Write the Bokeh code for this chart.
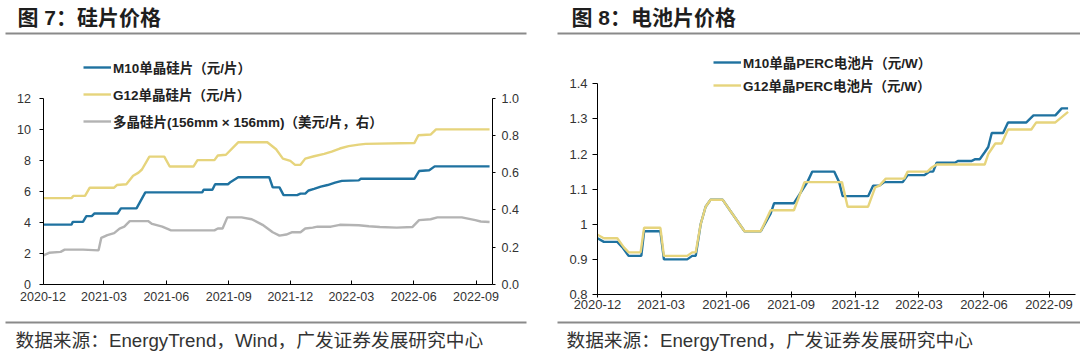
import pandas as pd
from bokeh.plotting import figure
from bokeh.layouts import row
from bokeh.models import (Range1d, LinearAxis, FixedTicker, CustomJSTickFormatter,
                          Legend, LegendItem, Label, BoxAnnotation)
from bokeh.embed import file_html
from bokeh.resources import INLINE

# ---------------- data: wafer prices (Fig. 7) ----------------
m10_wafer_dates = ["2020-12-01", "2021-01-12", "2021-01-14", "2021-01-29", "2021-02-03", "2021-02-11",
                   "2021-02-15", "2021-03-21", "2021-03-26", "2021-04-18", "2021-05-01", "2021-07-24",
                   "2021-07-26", "2021-08-08", "2021-08-12", "2021-08-31", "2021-09-04", "2021-09-15",
                   "2021-10-31", "2021-11-05", "2021-11-15", "2021-11-21", "2021-12-11", "2021-12-16",
                   "2021-12-23", "2021-12-28", "2022-01-05", "2022-01-15", "2022-01-25", "2022-02-05",
                   "2022-02-15", "2022-03-12", "2022-03-15", "2022-06-02", "2022-06-09", "2022-06-24",
                   "2022-07-02", "2022-09-21"]
m10_wafer_values = [3.85, 3.85, 4.03, 4.03, 4.40, 4.40,
                    4.57, 4.57, 4.90, 4.90, 5.93, 5.93,
                    6.10, 6.10, 6.45, 6.45, 6.60, 6.90,
                    6.90, 6.25, 6.25, 5.75, 5.75, 5.85,
                    5.85, 6.05, 6.15, 6.30, 6.40, 6.55,
                    6.67, 6.70, 6.80, 6.80, 7.30, 7.35,
                    7.60, 7.60]

g12_wafer_dates = ["2020-12-01", "2021-01-12", "2021-01-15", "2021-02-01", "2021-02-08", "2021-03-16",
                   "2021-03-20", "2021-04-03", "2021-04-13", "2021-04-21", "2021-04-26", "2021-05-07",
                   "2021-05-29", "2021-06-06", "2021-07-11", "2021-07-17", "2021-08-11", "2021-08-16",
                   "2021-08-28", "2021-09-15", "2021-10-28", "2021-11-10", "2021-11-20", "2021-12-01",
                   "2021-12-08", "2021-12-16", "2021-12-23", "2022-01-05", "2022-01-20", "2022-01-31",
                   "2022-02-12", "2022-02-25", "2022-03-12", "2022-03-22", "2022-06-02", "2022-06-08",
                   "2022-06-26", "2022-07-04", "2022-09-21"]
g12_wafer_values = [5.56, 5.56, 5.70, 5.70, 6.23, 6.23,
                    6.40, 6.45, 7.00, 7.20, 7.40, 8.23,
                    8.23, 7.59, 7.59, 8.00, 8.00, 8.30,
                    8.35, 9.15, 9.15, 8.70, 8.10, 7.95,
                    7.70, 7.70, 8.10, 8.25, 8.40, 8.55,
                    8.75, 8.90, 9.00, 9.05, 9.10, 9.60,
                    9.65, 9.98, 9.98]

poly_wafer_dates = ["2020-12-01", "2020-12-10", "2020-12-27", "2021-01-02", "2021-01-29", "2021-02-21",
                    "2021-02-25", "2021-03-06", "2021-03-16", "2021-03-24", "2021-03-31", "2021-04-08",
                    "2021-05-05", "2021-05-11", "2021-05-26", "2021-06-08", "2021-08-11", "2021-08-16",
                    "2021-08-23", "2021-08-30", "2021-09-20", "2021-10-05", "2021-10-21", "2021-11-05",
                    "2021-11-15", "2021-11-25", "2021-12-03", "2021-12-16", "2021-12-23", "2022-01-03",
                    "2022-01-10", "2022-01-30", "2022-02-12", "2022-03-12", "2022-03-27", "2022-04-12",
                    "2022-05-07", "2022-05-30", "2022-06-09", "2022-06-26", "2022-07-06", "2022-08-11",
                    "2022-08-31", "2022-09-08", "2022-09-21"]
poly_wafer_values = [0.155, 0.170, 0.175, 0.187, 0.187, 0.183,
                     0.250, 0.265, 0.275, 0.300, 0.310, 0.340,
                     0.340, 0.325, 0.310, 0.290, 0.290, 0.300,
                     0.300, 0.360, 0.360, 0.350, 0.320, 0.280,
                     0.262, 0.268, 0.280, 0.280, 0.300, 0.305,
                     0.310, 0.310, 0.320, 0.318, 0.312, 0.308,
                     0.305, 0.308, 0.345, 0.350, 0.360, 0.360,
                     0.345, 0.338, 0.335]

# ---------------- data: cell prices (Fig. 8) ----------------
m10_cell_dates = ["2020-12-01", "2020-12-10", "2020-12-29", "2021-01-05", "2021-01-14", "2021-02-01",
                  "2021-02-05", "2021-02-28", "2021-03-05", "2021-04-07", "2021-04-14", "2021-04-19",
                  "2021-04-26", "2021-05-03", "2021-05-10", "2021-05-27", "2021-06-27", "2021-07-20",
                  "2021-08-03", "2021-08-08", "2021-09-05", "2021-09-24", "2021-10-01", "2021-11-01",
                  "2021-11-08", "2021-11-13", "2021-12-19", "2021-12-26", "2022-01-04", "2022-01-11",
                  "2022-02-06", "2022-02-13", "2022-03-09", "2022-03-16", "2022-03-21", "2022-03-26",
                  "2022-04-21", "2022-04-25", "2022-05-14", "2022-05-19", "2022-05-26", "2022-06-02",
                  "2022-06-07", "2022-06-12", "2022-06-28", "2022-07-05", "2022-07-31", "2022-08-10",
                  "2022-09-10", "2022-09-19", "2022-09-28"]
m10_cell_values = [0.96, 0.95, 0.95, 0.935, 0.91, 0.91,
                   0.98, 0.98, 0.90, 0.90, 0.91, 0.91,
                   1.00, 1.05, 1.07, 1.07, 0.98, 0.98,
                   1.03, 1.06, 1.06, 1.12, 1.15, 1.15,
                   1.12, 1.08, 1.08, 1.11, 1.11, 1.12,
                   1.12, 1.14, 1.14, 1.15, 1.15, 1.175,
                   1.175, 1.18, 1.18, 1.185, 1.185, 1.205,
                   1.22, 1.26, 1.26, 1.29, 1.29, 1.31,
                   1.31, 1.33, 1.33]

g12_cell_dates = ["2020-12-01", "2020-12-10", "2020-12-29", "2021-01-07", "2021-01-14", "2021-01-31",
                  "2021-02-05", "2021-02-28", "2021-03-05", "2021-04-07", "2021-04-14", "2021-04-19",
                  "2021-04-26", "2021-05-03", "2021-05-10", "2021-05-27", "2021-06-27", "2021-07-20",
                  "2021-08-03", "2021-09-05", "2021-09-20", "2021-11-12", "2021-11-20", "2021-12-19",
                  "2021-12-29", "2022-01-04", "2022-01-13", "2022-02-08", "2022-02-13", "2022-03-13",
                  "2022-03-18", "2022-03-26", "2022-06-02", "2022-06-07", "2022-06-17", "2022-06-26",
                  "2022-07-05", "2022-08-07", "2022-08-14", "2022-09-10", "2022-09-28"]
g12_cell_values = [0.97, 0.96, 0.96, 0.935, 0.92, 0.92,
                   0.99, 0.99, 0.91, 0.91, 0.92, 0.92,
                   1.00, 1.05, 1.07, 1.07, 0.98, 0.98,
                   1.04, 1.04, 1.12, 1.12, 1.05, 1.05,
                   1.105, 1.11, 1.13, 1.13, 1.15, 1.15,
                   1.16, 1.17, 1.17, 1.20, 1.23, 1.23,
                   1.27, 1.27, 1.29, 1.29, 1.32]

month_ticks = ["2020-12-01", "2021-03-01", "2021-06-01", "2021-09-01",
               "2021-12-01", "2022-03-01", "2022-06-01", "2022-09-01"]
wafer_left_ticks = [0, 2, 4, 6, 8, 10, 12]
wafer_right_ticks = [0.0, 0.2, 0.4, 0.6, 0.8, 1.0]
cell_ticks = [0.8, 0.9, 1.0, 1.1, 1.2, 1.3, 1.4]

titles = ["图 7：硅片价格", "图 8：电池片价格"]
sources = ["数据来源：EnergyTrend，Wind，广发证券发展研究中心",
           "数据来源：EnergyTrend，广发证券发展研究中心"]
wafer_labels = ["M10单晶硅片（元/片）", "G12单晶硅片（元/片）",
                "多晶硅片(156mm × 156mm)（美元/片，右）"]
cell_labels = ["M10单晶PERC电池片（元/W）", "G12单晶PERC电池片（元/W）"]

# ---------------- styles ----------------
BLUE = "#1f72a0"
YELLOW = "#e6d47c"
GRAY = "#b3b3b3"
RULE = "#8a8a8a"
TXT = "#333333"
LAT = "Liberation Sans"
MIX = "Liberation Sans, Noto Sans CJK SC"
W, H = 540, 360
BASE = pd.Timestamp("2020-12-01")


def ms(d):
    return pd.Timestamp(d).value / 1e6


month_fmt = CustomJSTickFormatter(code="""
    const d = new Date(tick);
    const m = d.getUTCMonth() + 1;
    return d.getUTCFullYear() + "-" + (m < 10 ? "0" + m : "" + m);
""")


def style_axis(ax, out, inn, standoff, size):
    ax.axis_line_color = "#000000"
    ax.axis_line_width = 1
    ax.major_tick_line_color = "#000000"
    ax.major_tick_out = out
    ax.major_tick_in = inn
    ax.minor_tick_line_color = None
    ax.major_label_text_font = LAT
    ax.major_label_text_font_size = size
    ax.major_label_text_color = TXT
    ax.major_label_standoff = standoff


def x_range_for(px_start, px_sep):
    # px_start: pixel of 2020-12-01, px_sep: pixel of 2022-09-01
    ppd = (px_sep - px_start) / 639.0
    start = BASE - pd.Timedelta(days=px_start / ppd)
    end = start + pd.Timedelta(days=W / ppd)
    return Range1d(start, end), ppd


def base_fig(xr, yr):
    p = figure(width=W, height=H, output_backend="svg", toolbar_location=None,
               x_axis_type="datetime", x_range=xr, y_range=yr, min_border=0)
    p.grid.visible = False
    p.outline_line_color = None
    return p


def decorate(p, title, title_x, source, source_x, rule_x0, rule_x1):
    p.add_layout(Label(x=title_x, y=H - 17, x_units="screen", y_units="screen", text=title,
                       text_font=MIX, text_font_size="21px", text_font_style="bold",
                       text_baseline="middle", text_color="#1e1e1e"))
    p.add_layout(BoxAnnotation(left=rule_x0, right=rule_x1, bottom=H - 34, top=H - 32,
                               left_units="screen", right_units="screen",
                               bottom_units="screen", top_units="screen",
                               fill_color=RULE, fill_alpha=1, line_color=None))
    p.add_layout(BoxAnnotation(left=rule_x0, right=rule_x1, bottom=H - 323, top=H - 321,
                               left_units="screen", right_units="screen",
                               bottom_units="screen", top_units="screen",
                               fill_color=RULE, fill_alpha=1, line_color=None))
    p.add_layout(Label(x=source_x, y=H - 340, x_units="screen", y_units="screen", text=source,
                       text_font=MIX, text_font_size="18.7px", text_baseline="middle",
                       text_color=TXT))


# ---------------- chart 1: wafers ----------------
xr1, ppd1 = x_range_for(42.5, 475.5)
ppu1 = (284 - 97.5) / 12.0
yr1 = Range1d(-(H - 284) / ppu1, 284 / ppu1)
p1 = base_fig(xr1, yr1)
p1.extra_y_ranges = {"right": Range1d(-(H - 284) / (ppu1 * 12), 284 / (ppu1 * 12))}
end1 = BASE + pd.Timedelta(days=(492 - 42.5) / ppd1)

xa1 = p1.xaxis[0]
xa1.ticker = FixedTicker(ticks=[ms(t) for t in month_ticks])
xa1.formatter = month_fmt
xa1.fixed_location = 0
xa1.bounds = (ms(BASE), ms(end1))
style_axis(xa1, 0, 4, 7, "12.5px")

ya1 = p1.yaxis[0]
ya1.ticker = FixedTicker(ticks=wafer_left_ticks)
ya1.fixed_location = ms(BASE)
ya1.bounds = (0, 12)
style_axis(ya1, 4, 0, 8, "12.5px")

ax_r = LinearAxis(y_range_name="right", ticker=FixedTicker(ticks=wafer_right_ticks),
                  formatter=CustomJSTickFormatter(code="return tick.toFixed(1);"),
                  bounds=(0, 1), fixed_location=ms(end1))
style_axis(ax_r, 3, 0, 6, "12.5px")
p1.add_layout(ax_r, "right")

r_poly = p1.line(pd.to_datetime(poly_wafer_dates), poly_wafer_values, line_color=GRAY,
                 line_width=2.4, y_range_name="right")
r_g12 = p1.line(pd.to_datetime(g12_wafer_dates), g12_wafer_values, line_color=YELLOW, line_width=2.4)
r_m10 = p1.line(pd.to_datetime(m10_wafer_dates), m10_wafer_values, line_color=BLUE, line_width=2.4)

leg1 = Legend(items=[LegendItem(label=wafer_labels[0], renderers=[r_m10]),
                     LegendItem(label=wafer_labels[1], renderers=[r_g12]),
                     LegendItem(label=wafer_labels[2], renderers=[r_poly])],
              location=(83, H - 131), orientation="vertical", glyph_width=28, glyph_height=20,
              label_height=20, spacing=7, padding=0, margin=0, label_standoff=2,
              border_line_color=None, background_fill_alpha=0,
              label_text_font=MIX, label_text_font_size="13.5px", label_text_font_style="bold",
              label_text_color="#222222")
p1.add_layout(leg1)
decorate(p1, titles[0], 17, sources[0], 15, 5, 526)

# ---------------- chart 2: cells ----------------
xr2, ppd2 = x_range_for(57, 508.5)
ppu2 = (294 - 83.3) / 0.6
yr2 = Range1d(0.8 - (H - 294) / ppu2, 0.8 + 294 / ppu2)
p2 = base_fig(xr2, yr2)
end2 = BASE + pd.Timedelta(days=(535 - 57) / ppd2)

xa2 = p2.xaxis[0]
xa2.ticker = FixedTicker(ticks=[ms(t) for t in month_ticks])
xa2.formatter = month_fmt
xa2.fixed_location = 0.8
xa2.bounds = (ms(BASE), ms(end2))
style_axis(xa2, 3, 3, 2, "13px")

ya2 = p2.yaxis[0]
ya2.ticker = FixedTicker(ticks=cell_ticks)
ya2.formatter = CustomJSTickFormatter(
    code="return Math.abs(tick - 1) < 1e-9 ? '1' : tick.toFixed(1);")
ya2.fixed_location = ms(BASE)
ya2.bounds = (0.8, 1.4)
style_axis(ya2, 5, 0, 5, "13px")

c_m10 = p2.line(pd.to_datetime(m10_cell_dates), m10_cell_values, line_color=BLUE, line_width=2.4)
c_g12 = p2.line(pd.to_datetime(g12_cell_dates), g12_cell_values, line_color=YELLOW, line_width=2.4)

leg2 = Legend(items=[LegendItem(label=cell_labels[0], renderers=[c_m10]),
                     LegendItem(label=cell_labels[1], renderers=[c_g12])],
              location=(173, H - 95), orientation="vertical", glyph_width=28, glyph_height=20,
              label_height=20, spacing=3, padding=0, margin=0, label_standoff=2,
              border_line_color=None, background_fill_alpha=0,
              label_text_font=MIX, label_text_font_size="13.5px", label_text_font_style="bold",
              label_text_color="#222222")
p2.add_layout(leg2)
decorate(p2, titles[1], 31, sources[1], 26, 17, 540)

layout = row(p1, p2)
open("out.html", "w").write(file_html(layout, INLINE, title="硅片与电池片价格"))
